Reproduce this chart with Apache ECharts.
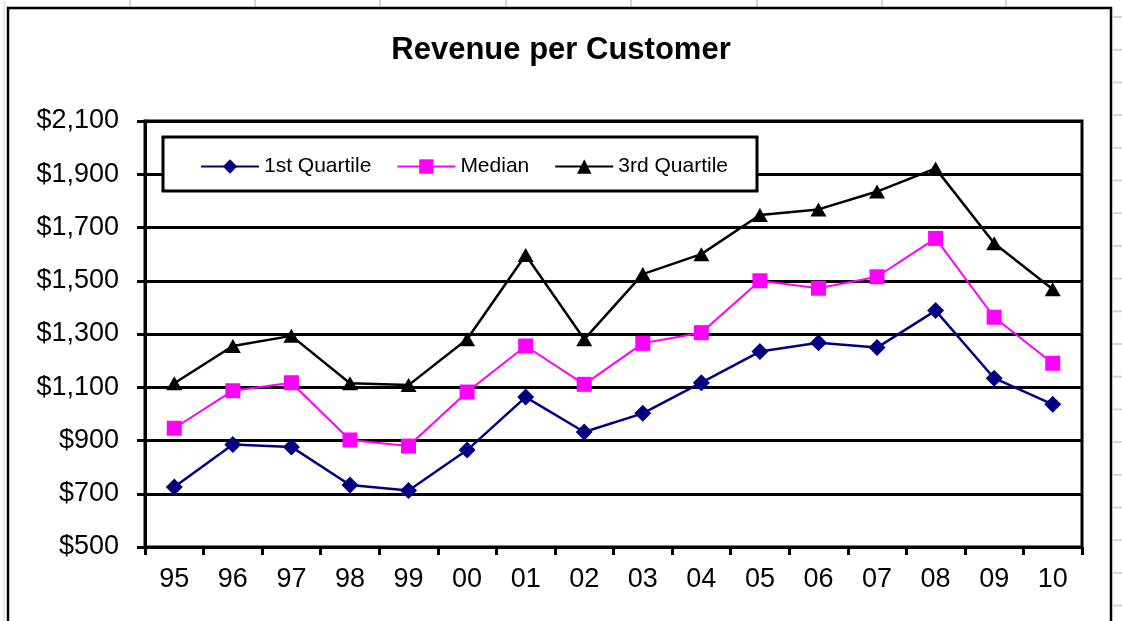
<!DOCTYPE html>
<html>
<head>
<meta charset="utf-8">
<script src="https://cdn.jsdelivr.net/npm/echarts@6/dist/echarts.min.js"></script>
<style>
  html, body { margin: 0; padding: 0; background: #fff; }
  #chart { width: 1122px; height: 621px; }
</style>
</head>
<body>
<div id="chart"></div>
<script>
const years = ['95', '96', '97', '98', '99', '00', '01', '02', '03', '04', '05', '06', '07', '08', '09', '10'];
const firstQuartile = [725, 885, 876, 733, 712, 864, 1063, 932, 1002, 1117, 1234, 1267, 1249, 1388, 1134, 1036];
const median = [946, 1087, 1117, 902, 879, 1082, 1255, 1111, 1265, 1305, 1500, 1472, 1515, 1659, 1363, 1190];
const thirdQuartile = [1115, 1255, 1293, 1115, 1108, 1280, 1597, 1280, 1525, 1600, 1747, 1768, 1835, 1922, 1641, 1468];

const font = '"Liberation Sans", Arial, sans-serif';

// spreadsheet cell lines peeking out around the chart object
const sheet = [];
[130, 255, 380, 506, 631, 757, 882, 1006].forEach(x => {
  sheet.push({ type: 'line', shape: { x1: x, y1: 0, x2: x, y2: 7 }, style: { stroke: '#cdd5e4', lineWidth: 2 }, z: 0 });
});
for (let y = 17; y < 621; y += 32.7) {
  sheet.push({ type: 'line', shape: { x1: 1113, y1: y, x2: 1122, y2: y }, style: { stroke: '#cdd5e4', lineWidth: 2 }, z: 0 });
}
sheet.push({ type: 'line', shape: { x1: 4, y1: 0, x2: 4, y2: 621 }, style: { stroke: '#cdd5e4', lineWidth: 1 }, z: 0 });

const chart = echarts.init(document.getElementById('chart'));

chart.setOption({
  backgroundColor: '#fff',
  animation: false,
  textStyle: { fontFamily: font },
  title: {
    text: 'Revenue per Customer',
    left: 'center',
    top: 30,
    textStyle: { fontFamily: font, fontSize: 31, fontWeight: 'bold', color: '#000' }
  },
  graphic: sheet.concat([
    {
      type: 'rect',
      shape: { x: 8, y: 8, width: 1103, height: 640 },
      style: { fill: 'none', stroke: '#000', lineWidth: 2.5 },
      z: 1
    },
    {
      type: 'rect',
      shape: { x: 163, y: 137, width: 594, height: 54 },
      style: { fill: '#fff', stroke: '#000', lineWidth: 3 },
      z: 5
    }
  ]),
  legend: {
    left: 195,
    top: 151,
    z: 10,
    itemWidth: 58,
    itemHeight: 18,
    itemGap: 25,
    textStyle: { fontFamily: font, fontSize: 21, color: '#000' },
    data: ['1st Quartile', 'Median', '3rd Quartile']
  },
  grid: {
    left: 145,
    top: 121,
    width: 937,
    height: 426,
    show: true,
    borderColor: '#000',
    borderWidth: 3,
    containLabel: false
  },
  xAxis: {
    type: 'category',
    data: years,
    boundaryGap: true,
    axisLine: { lineStyle: { color: '#000', width: 3 } },
    axisTick: { show: true, inside: false, length: 8, lineStyle: { color: '#000', width: 3 } },
    axisLabel: { color: '#000', fontSize: 27, fontFamily: font, margin: 19 },
    splitLine: { show: false }
  },
  yAxis: {
    type: 'value',
    min: 500,
    max: 2100,
    interval: 200,
    axisLine: { show: true, lineStyle: { color: '#000', width: 3 } },
    axisTick: { show: true, inside: false, length: 8, lineStyle: { color: '#000', width: 3 } },
    axisLabel: {
      color: '#000',
      fontSize: 27,
      fontFamily: font,
      margin: 26,
      formatter: v => '$' + v.toLocaleString('en-US')
    },
    splitLine: { show: true, lineStyle: { color: '#000', width: 3 } }
  },
  series: [
    {
      name: '1st Quartile',
      type: 'line',
      data: firstQuartile,
      symbol: 'diamond',
      symbolSize: 17,
      lineStyle: { color: '#000080', width: 2.5 },
      itemStyle: { color: '#000080' }
    },
    {
      name: 'Median',
      type: 'line',
      data: median,
      symbol: 'rect',
      symbolSize: 15,
      lineStyle: { color: '#ff00ff', width: 2 },
      itemStyle: { color: '#ff00ff' }
    },
    {
      name: '3rd Quartile',
      type: 'line',
      data: thirdQuartile,
      symbol: 'triangle',
      symbolSize: [16, 14],
      lineStyle: { color: '#000', width: 2.5 },
      itemStyle: { color: '#000' }
    }
  ]
});
</script>
</body>
</html>
